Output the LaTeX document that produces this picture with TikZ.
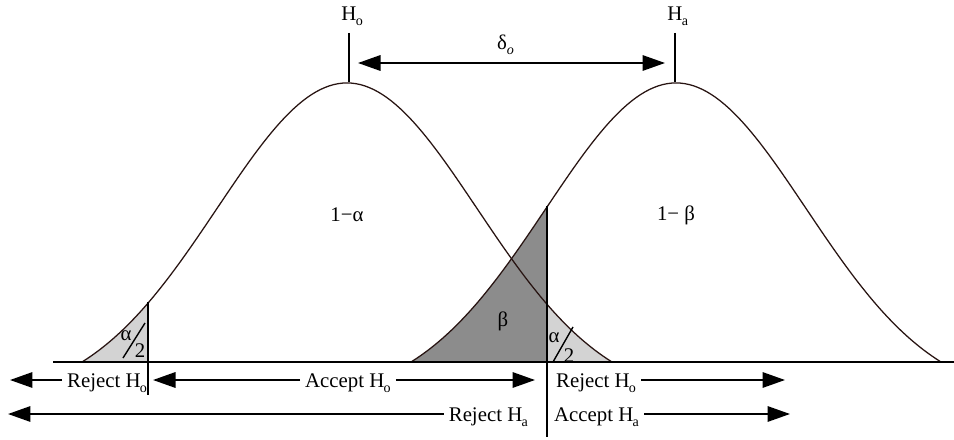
\documentclass[tikz,border=0pt]{standalone}
\usepackage{fontspec}
\setmainfont{Liberation Serif}
\usetikzlibrary{arrows.meta}
\definecolor{CurveBrown}{RGB}{40, 20, 18}
\definecolor{TailGray}{RGB}{211, 211, 211}
\definecolor{BetaGray}{RGB}{140, 140, 140}
\newcommand{\lowsub}[1]{\kern-0.5pt\raisebox{-3.5pt}{\fontsize{10}{10}\selectfont #1}}
\newcommand{\bellh}[1]{(279*(exp(-((#1)/100)^2/3.38)-0.1252)/0.8748)}
\tikzset{
  bellcurve/.style={draw=CurveBrown, line width=0.9pt},
  tailfill/.style={fill=TailGray},
  betafill/.style={fill=BetaGray},
  axisline/.style={line width=1.4pt, black},
  critline/.style={line width=1.3pt, black},
  slash/.style={line width=1pt, black},
  arr/.style={-{Triangle[length=16pt, width=11pt]}, line width=1.3pt},
  dblarr/.style={{Triangle[length=16pt, width=11pt]}-{Triangle[length=16pt, width=11pt]},
                 line width=1.3pt},
  lbl/.style={font=\fontsize{14.8}{17}\selectfont, inner sep=0pt},
  rowlbl/.style={font=\fontsize{14.8}{17}\selectfont, inner xsep=3.5pt,
                 inner ysep=0pt, text height=11.3pt, text depth=0pt},
}

\begin{document}
\begin{tikzpicture}[x=0.025cm, y=-0.025cm]
  \useasboundingbox (0,0) rectangle (954,440);

  %% SHADED AREAS
  \fill[tailfill] plot[domain=-265:-199, samples=25] ({347+\x}, {362-\bellh{\x}})
        -- (148,362) -- cycle;
  \fill[tailfill] (547,362) -- plot[domain=200:265, samples=25] ({347+\x}, {362-\bellh{\x}})
        -- cycle;
  \fill[betafill] plot[domain=-265:-129, samples=40] ({676+\x}, {362-\bellh{\x}})
        -- (547,362) -- cycle;

  %% TWO DISTRIBUTIONS
  \draw[bellcurve] plot[domain=-265:265, samples=121] ({347+\x}, {362-\bellh{\x}});
  \draw[bellcurve] plot[domain=-265:265, samples=121] ({676+\x}, {362-\bellh{\x}});

  \coordinate (axL) at (53,362);
  \coordinate (axR) at (954,362);
  \draw[axisline] (axL) -- (axR);

  %% CRITICAL VALUES
  \coordinate (critLtop) at (148,302);
  \coordinate (critLbot) at (148,395);
  \coordinate (critRtop) at (547,206);
  \coordinate (critRbot) at (547,437);
  \draw[critline] (critLtop) -- (critLbot);
  \draw[critline] (critRtop) -- (critRbot);

  %% MEANS AND SHIFT
  \node[lbl, anchor=base] (ho) at (349,21) {H\rlap{\lowsub{o}}};
  \node[lbl, anchor=base] (ha) at (675,21) {H\rlap{\lowsub{a}}};
  \coordinate (hoTick) at (349,33);
  \coordinate (hoPeak) at (349,82);
  \coordinate (haTick) at (675,33);
  \coordinate (haPeak) at (675,82);
  \draw[critline] (hoTick) -- (hoPeak);
  \draw[critline] (haTick) -- (haPeak);

  \node[lbl, anchor=base] (delta) at (502,50)
       {δ\rlap{\raisebox{-3pt}{\fontsize{10}{10}\selectfont\itshape o}}};
  \coordinate (deltaL) at (358,63);
  \coordinate (deltaR) at (665,63);
  \draw[dblarr] (deltaL) -- (deltaR);

  %% AREA LABELS
  \node[lbl] (oneMinusA) at (347,215) {1−α};
  \node[lbl] (oneMinusB) at (676,215) {1− β};
  \node[lbl] (beta) at (503,321) {β};

  \node[lbl] (alphaL) at (126,336) {α};
  \node[lbl] (twoL) at (140,351) {2};
  \coordinate (slashLa) at (123,358);
  \coordinate (slashLb) at (145,323);
  \draw[slash] (slashLa) -- (slashLb);

  \node[lbl] (alphaR) at (554,338) {α};
  \node[lbl] (twoR) at (569,356) {2};
  \coordinate (slashRa) at (553,362);
  \coordinate (slashRb) at (573,327);
  \draw[slash] (slashRa) -- (slashRb);

  %% DECISION ROWS
  \node[rowlbl, anchor=west] (rejHoL) at (62,380) {Reject H\lowsub{o}};
  \node[rowlbl, anchor=west] (accHo) at (300,380) {Accept H\lowsub{o}};
  \node[rowlbl, anchor=west] (rejHoR) at (551,380) {Reject H\lowsub{o}};
  \coordinate (tipRejL) at (10,380);
  \coordinate (tipAccL) at (153,380);
  \coordinate (tipAccR) at (535,380);
  \coordinate (tipRejR) at (785,380);
  \draw[arr] (rejHoL.west) -- (tipRejL);
  \draw[arr] (accHo.west) -- (tipAccL);
  \draw[arr] (accHo.east) -- (tipAccR);
  \draw[arr] (rejHoR.east) -- (tipRejR);

  \node[rowlbl, anchor=east] (rejHa) at (533,414) {Reject H\lowsub{a}};
  \node[rowlbl, anchor=west] (accHa) at (549,414) {Accept H\lowsub{a}};
  \coordinate (tipHaL) at (8,414);
  \coordinate (tipHaR) at (790,414);
  \draw[arr] (rejHa.west) -- (tipHaL);
  \draw[arr] (accHa.east) -- (tipHaR);

\end{tikzpicture}
\end{document}
